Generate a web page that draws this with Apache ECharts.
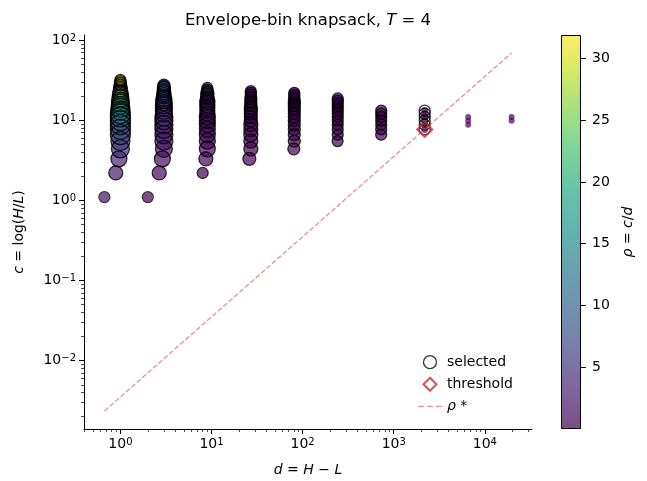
<!DOCTYPE html>
<html>
<head>
<meta charset="utf-8">
<script src="https://cdn.jsdelivr.net/npm/echarts@6/dist/echarts.min.js"></script>
<style>
html, body { margin: 0; padding: 0; background: #fff; }
#chart { width: 647px; height: 481px; }
</style>
</head>
<body>
<div id="chart"></div>
<script>
// one column per d = 3^k
var colD = [1, 3, 9, 27, 81, 243, 729, 2187, 6561, 19683];
// the lowest items of a column sit a little left of it
var lowD0 = [0.667, 0.889, 0.963];
var lowD1 = [2, 2.667, 2.889];
var lowD2 = [8, 8.667];
var lowD3 = [26];
var lowD4 = [80];
var lowD5 = [242];
var lowD6 = [728];
var lowD7 = [2186];
var lowD8 = [];
var lowD9 = [];

// c values of each column
var cCol0 = [1.1, 2.2, 3.3, 4.4, 5.5, 6.6, 7.7, 8.8, 9.9, 11, 12.1, 13.2, 14.3, 15.4, 16.5, 17.6, 18.7, 19.8, 20.9, 22, 23.1, 24.2, 25.3, 26.4, 27.5, 28.6, 29.7, 30.8, 31.9];
var cCol1 = [1.1, 2.2, 3.3, 4.4, 5.5, 6.6, 7.7, 8.8, 9.9, 11, 12.1, 13.2, 14.3, 15.4, 16.5, 17.6, 18.7, 19.8, 20.9, 22, 23.1, 24.2, 25.3, 26.4, 27.5];
var cCol2 = [2.2, 3.3, 4.4, 5.5, 6.6, 7.7, 8.8, 9.9, 11, 12.1, 13.2, 14.3, 15.4, 16.5, 17.6, 18.7, 19.8, 20.9, 22, 23.1, 24.2, 25.3];
var cCol3 = [3.3, 4.4, 5.5, 6.6, 7.7, 8.8, 9.9, 11, 12.1, 13.2, 14.3, 15.4, 16.5, 17.6, 18.7, 19.8, 20.9, 22, 23.1];
var cCol4 = [4.4, 5.5, 6.6, 7.7, 8.8, 9.9, 11, 12.1, 13.2, 14.3, 15.4, 16.5, 17.6, 18.7, 19.8, 20.9, 22];
var cCol5 = [5.5, 6.6, 7.7, 8.8, 9.9, 11, 12.1, 13.2, 14.3, 15.4, 16.5, 17.6, 18.7];
var cCol6 = [6.6, 7.7, 8.8, 9.9, 11, 12.1, 13.2];
var cCol7 = [7.7, 8.8, 9.9, 11, 12.1, 13.2];
var cCol8 = [8.8, 9.9, 11];
var cCol9 = [9.9, 11];

// threshold item
var thrD = 2186;
var thrC = 7.7;

// ticks
var xMajor = [1, 10, 100, 1000, 10000];
var yMajor = [0.01, 0.1, 1, 10, 100];
var xMinor = [0.4, 0.5, 0.6, 0.7, 0.8, 0.9, 2, 3, 4, 5, 6, 7, 8, 9, 20, 30, 40, 50, 60, 70, 80, 90,
  200, 300, 400, 500, 600, 700, 800, 900, 2000, 3000, 4000, 5000, 6000, 7000, 8000, 9000, 20000, 30000];
var yMinor = [0.002, 0.003, 0.004, 0.005, 0.006, 0.007, 0.008, 0.009, 0.02, 0.03, 0.04, 0.05, 0.06, 0.07, 0.08, 0.09,
  0.2, 0.3, 0.4, 0.5, 0.6, 0.7, 0.8, 0.9, 2, 3, 4, 5, 6, 7, 8, 9, 20, 30, 40, 50, 60, 70, 80, 90];
var cbTicks = [5, 10, 15, 20, 25, 30];

// marker diameters (px), per column
var sCol0 = [10, 14, 16, 18, 19, 20, 20, 20, 20, 20, 20, 19, 19, 18, 18, 17, 17, 16, 16, 15, 14, 14, 13, 13, 12, 12, 11, 11, 10];
var sCol1 = [10, 14, 16, 17, 18, 18, 18, 18, 18, 18, 17, 17, 17, 17, 16, 16, 16, 14, 14, 14, 13, 13, 13, 12, 12];
var sCol2 = [11, 14, 16, 16, 16, 16, 16, 16, 16, 15, 15, 15, 15, 15, 15, 13, 13, 13, 13, 11, 11, 11];
var sCol3 = [13, 14, 14, 14, 14, 14, 13, 13, 13, 13, 13, 12, 12, 12, 12, 11, 11, 11, 11];
var sCol4 = [12, 12, 12, 12, 12, 12, 12, 12, 12, 12, 12, 12, 12, 11, 11, 11, 11];
var sCol5 = [11, 11, 11, 11, 11, 11, 11, 11, 11, 11, 11, 11, 11];
var sCol6 = [11, 11, 11, 11, 11, 11, 11];
var sCol7 = [7, 7, 7, 7, 7, 7];
var sCol8 = [6, 6, 6];
var sCol9 = [6, 6];
var ringMin = 11;

var viridis = ['#440154', '#482475', '#414487', '#355f8d', '#2a788e', '#21918c', '#22a884', '#44bf70', '#7ad151', '#bddf26', '#fde725'];
var FONT = 'DejaVu Sans';
var RED = '#d62728';
var RED_HALF = 'rgba(214,39,40,0.5)';

var cCols = [cCol0, cCol1, cCol2, cCol3, cCol4, cCol5, cCol6, cCol7, cCol8, cCol9];
var lowDs = [lowD0, lowD1, lowD2, lowD3, lowD4, lowD5, lowD6, lowD7, lowD8, lowD9];
var sCols = [sCol0, sCol1, sCol2, sCol3, sCol4, sCol5, sCol6, sCol7, sCol8, sCol9];

var rhoStar = thrC / thrD;
var allPts = [], selPts = [];
var rhoMin = Infinity, rhoMax = 0, dMin = Infinity, dMax = 0;
for (var k = 0; k < cCols.length; k++) {
  for (var i = 0; i < cCols[k].length; i++) {
    var d = i < lowDs[k].length ? lowDs[k][i] : colD[k];
    var c = cCols[k][i];
    var rho = c / d;
    rhoMin = Math.min(rhoMin, rho); rhoMax = Math.max(rhoMax, rho);
    dMin = Math.min(dMin, d); dMax = Math.max(dMax, d);
    allPts.push([d, c, rho, sCols[k][i]]);
    if (rho >= rhoStar * 0.999999) selPts.push([d, c, rho, Math.max(sCols[k][i], ringMin)]);
  }
}
var lineData = [[dMin, rhoStar * dMin], [dMax, rhoStar * dMax]];

function hexA(h, a) {
  var n = parseInt(h.slice(1), 16);
  return 'rgba(' + (n >> 16) + ',' + ((n >> 8) & 255) + ',' + (n & 255) + ',' + a + ')';
}
var cbStops = viridis.map(function (col, j) {
  return { offset: j / (viridis.length - 1), color: hexA(col, 0.7) };
});

function pow10(v) {
  var e = Math.round(Math.log(v) / Math.LN10);
  return '{b|10}{sup|' + (e < 0 ? '\u2212' + (-e) : e) + '}';
}
var supRich = {
  b: { fontSize: 14, fontFamily: FONT, color: '#000', verticalAlign: 'bottom' },
  sup: { fontSize: 10, fontFamily: FONT, color: '#000', verticalAlign: 'top' }
};
var nameRich = {
  n: { fontSize: 14, fontFamily: FONT, color: '#000' },
  i: { fontSize: 14, fontFamily: FONT, color: '#000', fontStyle: 'italic' }
};

var xMin = 0.3985, xMax = 32930, yMin = 0.001406, yMax = 115.9;

var chart = echarts.init(document.getElementById('chart'), null, { renderer: 'canvas' });
chart.setOption({
  animation: false,
  backgroundColor: '#fff',
  title: {
    text: '{n|Envelope-bin knapsack, }{i|T}{n| = 4}',
    left: 303, top: 7, textAlign: 'center',
    textStyle: {
      fontWeight: 'normal',
      rich: {
        n: { fontSize: 16.5, fontFamily: FONT, color: '#000', fontWeight: 'normal' },
        i: { fontSize: 16.5, fontFamily: FONT, color: '#000', fontStyle: 'italic', fontWeight: 'normal' }
      }
    }
  },
  grid: [
    { left: 84, top: 35, width: 448, height: 394, outerBoundsMode: 'none' },
    { left: 561, top: 35, width: 20, height: 394, outerBoundsMode: 'none' }
  ],
  legend: {
    orient: 'vertical', left: 413, top: 350, itemWidth: 24, itemHeight: 13, itemGap: 7.5,
    textStyle: { fontSize: 14, fontFamily: FONT, color: '#000', rich: nameRich },
    formatter: function (n) { return n === 'ρ*' ? '{i|ρ}{n| *}' : '{n|' + n + '}'; },
    data: [
      { name: 'selected', icon: 'circle', itemStyle: { color: 'rgba(0,0,0,0)', borderColor: '#000', borderWidth: 1.3 } },
      { name: 'threshold', icon: 'path://M0,-1L1,0L0,1L-1,0Z', itemStyle: { color: 'rgba(0,0,0,0)', borderColor: RED, borderWidth: 2 } },
      {
        name: 'ρ*', icon: 'path://M0,0h6v1.3h-6zM9,0h6v1.3h-6zM18,0h6v1.3h-6z',
        itemStyle: { color: RED_HALF, borderWidth: 0 }
      }
    ]
  },
  visualMap: {
    show: false, type: 'continuous', seriesIndex: 0, dimension: 2,
    min: rhoMin, max: rhoMax, inRange: { color: viridis }
  },
  xAxis: [
    {
      type: 'log', gridIndex: 0, position: 'bottom', min: xMin, max: xMax,
      axisLine: { show: true, onZero: false, lineStyle: { color: '#000', width: 1 } },
      axisTick: { show: true, customValues: xMajor, length: 5, lineStyle: { color: '#000', width: 1 } },
      axisLabel: { customValues: xMajor, formatter: pow10, margin: 8, rich: supRich },
      splitLine: { show: false },
      name: '{i|d}{n| = }{i|H}{n| \u2212 }{i|L}', nameLocation: 'middle', nameGap: 34,
      nameTextStyle: { rich: nameRich }
    },
    {
      type: 'log', gridIndex: 0, position: 'bottom', min: xMin, max: xMax,
      axisLine: { show: false },
      axisTick: { show: true, customValues: xMinor, length: 3, lineStyle: { color: '#000', width: 0.7 } },
      axisLabel: { show: false }, splitLine: { show: false }
    },
    { type: 'category', gridIndex: 1, data: ['bar'], show: false }
  ],
  yAxis: [
    {
      type: 'log', gridIndex: 0, position: 'left', min: yMin, max: yMax,
      axisLine: { show: true, onZero: false, lineStyle: { color: '#000', width: 1 } },
      axisTick: { show: true, customValues: yMajor, length: 5, lineStyle: { color: '#000', width: 1 } },
      axisLabel: { customValues: yMajor, formatter: pow10, margin: 8, rich: supRich },
      splitLine: { show: false },
      name: '{i|c}{n| = log(}{i|H}{n|/}{i|L}{n|)}', nameLocation: 'middle', nameGap: 58,
      nameTextStyle: { rich: nameRich }
    },
    {
      type: 'log', gridIndex: 0, position: 'left', min: yMin, max: yMax,
      axisLine: { show: false },
      axisTick: { show: true, customValues: yMinor, length: 3, lineStyle: { color: '#000', width: 0.7 } },
      axisLabel: { show: false }, splitLine: { show: false }
    },
    {
      type: 'value', gridIndex: 1, position: 'right', min: 0, max: rhoMax,
      axisLine: { show: false },
      axisTick: { show: true, customValues: cbTicks, length: 5, lineStyle: { color: '#000', width: 1 } },
      axisLabel: { customValues: cbTicks, margin: 11, fontSize: 14, fontFamily: FONT, color: '#000' },
      splitLine: { show: false },
      name: '{i|ρ}{n| = }{i|c}{n|/}{i|d}', nameLocation: 'middle', nameGap: 40, nameRotate: 90,
      nameTextStyle: { rich: nameRich }
    }
  ],
  series: [
    {
      name: 'all', type: 'scatter', xAxisIndex: 0, yAxisIndex: 0, data: allPts,
      symbolSize: function (v) { return v[3]; },
      itemStyle: { opacity: 0.7, borderWidth: 0 }, z: 2
    },
    {
      name: 'selected', type: 'scatter', xAxisIndex: 0, yAxisIndex: 0, data: selPts,
      symbolSize: function (v) { return v[3]; },
      itemStyle: { color: 'rgba(0,0,0,0)', borderColor: '#000', borderWidth: 1.25 }, z: 3
    },
    {
      name: 'threshold', type: 'scatter', xAxisIndex: 0, yAxisIndex: 0, data: [[thrD, thrC]],
      symbol: 'path://M0,-1L1,0L0,1L-1,0Z', symbolSize: 15,
      itemStyle: { color: 'rgba(0,0,0,0)', borderColor: RED, borderWidth: 2 }, z: 4
    },
    {
      name: 'ρ*', type: 'line', xAxisIndex: 0, yAxisIndex: 0, data: lineData,
      showSymbol: false, symbol: 'none',
      lineStyle: { color: RED_HALF, width: 1.3, type: [5, 2.2] },
      itemStyle: { color: RED_HALF }, z: 5
    },
    {
      name: 'colorbar', type: 'bar', xAxisIndex: 2, yAxisIndex: 2, data: [rhoMax], barWidth: '100%',
      itemStyle: {
        color: new echarts.graphic.LinearGradient(0, 1, 0, 0, cbStops),
        borderColor: '#000', borderWidth: 1
      }
    }
  ]
});
</script>
</body>
</html>
